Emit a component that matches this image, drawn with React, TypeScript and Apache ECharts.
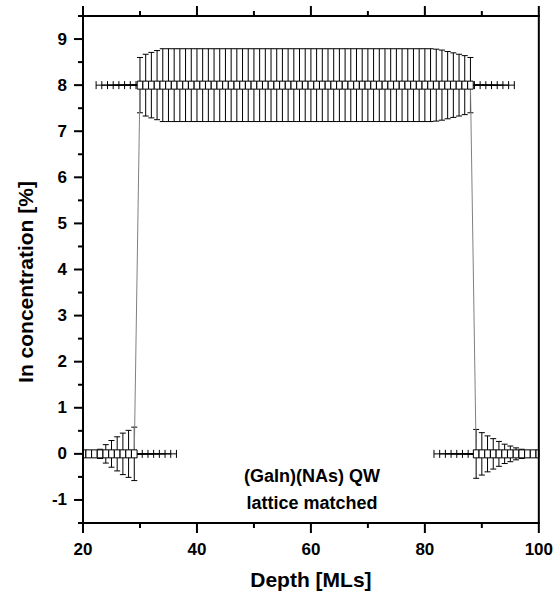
import React, { useEffect, useRef } from "react";
import * as echarts from "echarts";

// ---- data ----
const leftDepth = [20, 21, 22, 23, 24, 25, 26, 27, 28, 29];
const leftConc = [0, 0, 0, 0, 0, 0, 0, 0, 0, 0];
const leftErrY = [0.02, 0.03, 0.05, 0.1, 0.2, 0.29, 0.37, 0.45, 0.51, 0.58];

const wellDepth = [
  30, 31, 32, 33, 34, 35, 36, 37, 38, 39, 40, 41, 42, 43, 44, 45, 46, 47, 48, 49,
  50, 51, 52, 53, 54, 55, 56, 57, 58, 59, 60, 61, 62, 63, 64, 65, 66, 67, 68, 69,
  70, 71, 72, 73, 74, 75, 76, 77, 78, 79, 80, 81, 82, 83, 84, 85, 86, 87, 88,
];
const wellConc = [
  8, 8, 8, 8, 8, 8, 8, 8, 8, 8, 8, 8, 8, 8, 8, 8, 8, 8, 8, 8,
  8, 8, 8, 8, 8, 8, 8, 8, 8, 8, 8, 8, 8, 8, 8, 8, 8, 8, 8, 8,
  8, 8, 8, 8, 8, 8, 8, 8, 8, 8, 8, 8, 8, 8, 8, 8, 8, 8, 8,
];
const wellErrY = [
  0.6, 0.67, 0.71, 0.75, 0.79, 0.79, 0.79, 0.79, 0.79, 0.79, 0.79, 0.79, 0.79, 0.79, 0.79, 0.79, 0.79, 0.79, 0.79, 0.79,
  0.79, 0.79, 0.79, 0.79, 0.79, 0.79, 0.79, 0.79, 0.79, 0.79, 0.79, 0.79, 0.79, 0.79, 0.79, 0.79, 0.79, 0.79, 0.79, 0.79,
  0.79, 0.79, 0.79, 0.79, 0.79, 0.79, 0.79, 0.79, 0.79, 0.79, 0.79, 0.79, 0.78, 0.76, 0.73, 0.7, 0.67, 0.64, 0.6,
];

const rightDepth = [89, 90, 91, 92, 93, 94, 95, 96, 97, 98, 99, 100];
const rightConc = [0, 0, 0, 0, 0, 0, 0, 0, 0, 0, 0, 0];
const rightErrY = [0.53, 0.46, 0.39, 0.33, 0.27, 0.21, 0.17, 0.13, 0.1, 0.07, 0.05, 0.03];

const xErrBarrier = 7.4;
const xErrWell = 7.7;

const xMajorTicks = [20, 40, 60, 80, 100];
const xMinorTicks = [30, 50, 70, 90];
const yMajorTicks = [-1, 0, 1, 2, 3, 4, 5, 6, 7, 8, 9];
const yMinorTicks = [-1.5, -0.5, 0.5, 1.5, 2.5, 3.5, 4.5, 5.5, 6.5, 7.5, 8.5, 9.5];

const FONT = "'Liberation Sans', Arial, sans-serif";
const X_MIN = 20;
const X_MAX = 100;
const Y_MIN = -1.5;
const Y_MAX = 9.5;

const textGraphics = [
  {
    type: "text",
    x: 25,
    y: 282,
    rotation: Math.PI / 2,
    style: {
      text: "In concentration [%]",
      fontFamily: FONT,
      fontWeight: "bold",
      fontSize: 21,
      fill: "#000",
      textAlign: "center",
      textVerticalAlign: "middle",
    },
  },
  {
    type: "text",
    x: 312,
    y: 476,
    style: {
      text: "(GaIn)(NAs) QW",
      fontFamily: FONT,
      fontWeight: "bold",
      fontSize: 18,
      fill: "#000",
      textAlign: "center",
      textVerticalAlign: "middle",
    },
  },
  {
    type: "text",
    x: 312,
    y: 503,
    style: {
      text: "lattice matched",
      fontFamily: FONT,
      fontWeight: "bold",
      fontSize: 18,
      fill: "#000",
      textAlign: "center",
      textVerticalAlign: "middle",
    },
  },
];

export default function App() {
  const ref = useRef<HTMLDivElement>(null);

  useEffect(() => {
    document.body.style.margin = "0";
    if (!ref.current) return;
    const chart = echarts.init(ref.current, null, { renderer: "svg" });

    const points: number[][] = [];
    leftDepth.forEach((d, i) => points.push([d, leftConc[i], xErrBarrier, leftErrY[i]]));
    wellDepth.forEach((d, i) => points.push([d, wellConc[i], xErrWell, wellErrY[i]]));
    rightDepth.forEach((d, i) => points.push([d, rightConc[i], xErrBarrier, rightErrY[i]]));

    const labelStyle = {
      fontFamily: FONT,
      fontWeight: "bold",
      fontSize: 17,
      color: "#000",
    };

    const option: any = {
      animation: false,
      grid: { left: 83, right: 17, top: 16, bottom: 74 },
      xAxis: {
        type: "value",
        min: X_MIN,
        max: X_MAX,
        position: "bottom",
        splitLine: { show: false },
        axisLine: { show: false, onZero: false },
        axisTick: { show: false },
        axisLabel: { show: true, margin: 18, ...labelStyle, customValues: xMajorTicks },
        name: "Depth [MLs]",
        nameLocation: "middle",
        nameGap: 46,
        nameTextStyle: { fontFamily: FONT, fontWeight: "bold", fontSize: 21, color: "#000" },
      },
      yAxis: {
        type: "value",
        min: Y_MIN,
        max: Y_MAX,
        position: "left",
        splitLine: { show: false },
        axisLine: { show: false, onZero: false },
        axisTick: { show: false },
        axisLabel: { show: true, margin: 16, ...labelStyle, customValues: yMajorTicks },
      },
      graphic: textGraphics,
      series: [
        {
          type: "custom",
          name: "error bars",
          z: 1,
          encode: { x: 0, y: 1 },
          data: points,
          renderItem: (params: any, api: any) => {
            const cs = params.coordSys;
            const left = cs.x;
            const right = cs.x + cs.width;
            const x = api.value(0);
            const y = api.value(1);
            const ex = api.value(2);
            const ey = api.value(3);
            const c = api.coord([x, y]);
            const top = api.coord([x, y + ey]);
            const bot = api.coord([x, y - ey]);
            const l = api.coord([x - ex, y]);
            const r = api.coord([x + ex, y]);
            const cw = 3;
            const ch = 4;
            const style = { stroke: "#000", lineWidth: 1, fill: null };
            const children: any[] = [];
            const seg = (x1: number, y1: number, x2: number, y2: number) => {
              const a = Math.max(Math.min(x1, x2), left);
              const b = Math.min(Math.max(x1, x2), right);
              if (b < a) return;
              children.push({ type: "line", shape: { x1: a, y1, x2: b, y2 }, style });
            };
            seg(c[0], top[1], c[0], bot[1]);
            seg(c[0] - cw, top[1], c[0] + cw, top[1]);
            seg(c[0] - cw, bot[1], c[0] + cw, bot[1]);
            seg(l[0], c[1], r[0], c[1]);
            if (l[0] >= left) seg(l[0], c[1] - ch, l[0], c[1] + ch);
            if (r[0] <= right) seg(r[0], c[1] - ch, r[0], c[1] + ch);
            if (params.dataIndex === 0) {
              children.push({
                type: "polyline",
                z2: 5,
                shape: { points: points.map((p) => api.coord([p[0], p[1]])) },
                style: { stroke: "#808080", lineWidth: 1, fill: null },
              });
            }
            return { type: "group", children };
          },
        },
        {
          type: "custom",
          name: "markers",
          z: 3,
          encode: { x: 0, y: 1 },
          data: points.map((p) => [p[0], p[1]]),
          renderItem: (params: any, api: any) => {
            const cs = params.coordSys;
            const c = api.coord([api.value(0), api.value(1)]);
            const w = 5.6;
            const h = 8;
            const x0 = Math.max(c[0] - w / 2, cs.x);
            const x1 = Math.min(c[0] + w / 2, cs.x + cs.width);
            return {
              type: "rect",
              shape: { x: x0, y: c[1] - h / 2, width: x1 - x0, height: h },
              style: { fill: "#fff", stroke: "#000", lineWidth: 1 },
            };
          },
        },
      ],
    };

    chart.setOption(option);

    // Frame and ticks, positioned through the axes' own scales.
    const px = (v: number[]) => chart.convertToPixel({ xAxisIndex: 0, yAxisIndex: 0 }, v) as number[];
    const bl = px([X_MIN, Y_MIN]);
    const tr = px([X_MAX, Y_MAX]);
    const L = bl[0];
    const B = bl[1];
    const R = tr[0];
    const T = tr[1];
    const lw = 2;
    const bar = (x: number, y: number, w: number, h: number) => ({
      type: "rect",
      silent: true,
      z: 100,
      shape: { x, y, width: w, height: h },
      style: { fill: "#000" },
    });
    const frame: any[] = [
      bar(L - lw / 2, T - lw / 2, R - L + lw, lw),
      bar(L - lw / 2, B - lw / 2, R - L + lw, lw),
      bar(L - lw / 2, T - lw / 2, lw, B - T + lw),
      bar(R - lw / 2, T - lw / 2, lw, B - T + lw),
    ];
    const xTick = (v: number, len: number) => {
      const p = px([v, Y_MIN])[0];
      frame.push(bar(p - lw / 2, B, lw, len));
      frame.push(bar(p - lw / 2, T - len, lw, len));
    };
    xMajorTicks.forEach((v) => xTick(v, 10));
    xMinorTicks.forEach((v) => xTick(v, 5));
    const yTick = (v: number, len: number) => {
      const p = px([X_MIN, v])[1];
      frame.push(bar(L - len, p - lw / 2, len, lw));
    };
    yMajorTicks.forEach((v) => yTick(v, 9));
    yMinorTicks.forEach((v) => yTick(v, 5));

    chart.setOption({ graphic: [...textGraphics, ...frame] });

    return () => chart.dispose();
  }, []);

  return <div ref={ref} style={{ width: 556, height: 597 }} />;
}
